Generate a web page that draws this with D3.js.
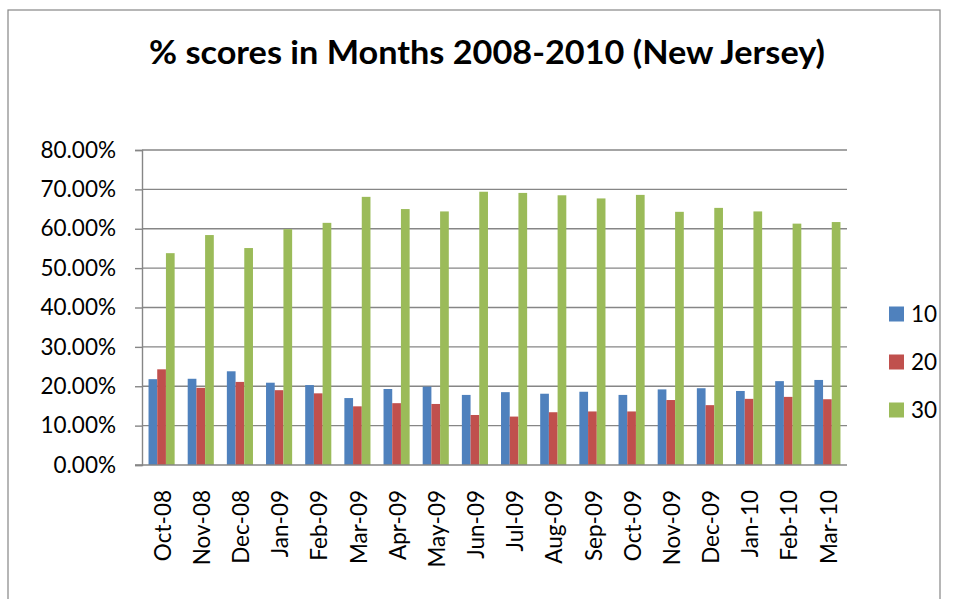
<!DOCTYPE html>
<html>
<head>
<meta charset="utf-8">
<script src="https://cdn.jsdelivr.net/npm/d3@7.9.0/dist/d3.min.js"></script>
<style>
  body { margin: 0; background: #fff; }
  svg { display: block; font-family: Lato, "Open Sans", sans-serif; }
</style>
</head>
<body>
<svg id="chart" width="953" height="599"></svg>
<script>
// months on the x axis
const months = ['Oct-08', 'Nov-08', 'Dec-08', 'Jan-09', 'Feb-09', 'Mar-09', 'Apr-09', 'May-09', 'Jun-09',
  'Jul-09', 'Aug-09', 'Sep-09', 'Oct-09', 'Nov-09', 'Dec-09', 'Jan-10', 'Feb-10', 'Mar-10'];

// series names
const seriesNames = ['10', '20', '30'];

// values (fractions)
const s10 = [0.218, 0.219, 0.238, 0.209, 0.203, 0.170, 0.193, 0.199, 0.178, 0.185, 0.181, 0.186, 0.178, 0.192, 0.195, 0.188, 0.213, 0.216];
const s20 = [0.243, 0.196, 0.211, 0.190, 0.182, 0.149, 0.157, 0.155, 0.127, 0.123, 0.134, 0.136, 0.136, 0.165, 0.152, 0.168, 0.173, 0.167];
const s30 = [0.538, 0.584, 0.551, 0.599, 0.615, 0.681, 0.650, 0.644, 0.694, 0.691, 0.685, 0.677, 0.686, 0.643, 0.653, 0.644, 0.613, 0.617];

const yTicks = [0, 0.1, 0.2, 0.3, 0.4, 0.5, 0.6, 0.7, 0.8];
const colors = ['#4f81bd', '#c0504d', '#9bbb59'];

const seriesValues = [s10, s20, s30];
const rows = months.map((m, i) => ({ month: m, vals: seriesValues.map(s => s[i]) }));

const svg = d3.select('#chart');
const gridColor = '#868686';

// chart area border
svg.append('rect')
  .attr('x', 8).attr('y', 10)
  .attr('width', 932).attr('height', 620)
  .attr('fill', 'none')
  .attr('stroke', gridColor)
  .attr('stroke-width', 1.2);

// title
svg.append('text')
  .attr('x', 487).attr('y', 64)
  .attr('text-anchor', 'middle')
  .attr('font-weight', 'bold')
  .attr('font-size', 32)
  .attr('textLength', 676)
  .attr('lengthAdjust', 'spacingAndGlyphs')
  .text('% scores in Months 2008-2010 (New Jersey)');

const plot = { left: 142, right: 847, top: 150, bottom: 465 };

const x = d3.scaleBand()
  .domain(months)
  .range([plot.left, plot.right])
  .paddingInner(1.5 / 4.5)
  .paddingOuter(0.75 / 4.5);

const xs = d3.scaleBand()
  .domain(d3.range(seriesNames.length))
  .range([0, x.bandwidth()]);

const y = d3.scaleLinear()
  .domain([0, 0.8])
  .range([plot.bottom, plot.top]);

// gridlines
svg.append('g')
  .selectAll('line')
  .data(yTicks.filter(t => t > 0))
  .join('line')
  .attr('x1', plot.left).attr('x2', plot.right)
  .attr('y1', d => y(d)).attr('y2', d => y(d))
  .attr('stroke', gridColor)
  .attr('stroke-width', 1.4);

// y axis
const yAxis = svg.append('g')
  .attr('transform', `translate(${plot.left},0)`)
  .call(d3.axisLeft(y).tickValues(yTicks).tickFormat(d3.format('.2%')).tickSize(7).tickPadding(19));
yAxis.select('.domain').attr('stroke', gridColor).attr('stroke-width', 1.4);
yAxis.selectAll('.tick line').attr('stroke', gridColor).attr('stroke-width', 1.4);
yAxis.selectAll('text')
  .attr('font-family', 'Lato, sans-serif')
  .attr('font-size', 22.5)
  .attr('fill', '#000');

// bars
svg.append('g')
  .selectAll('g')
  .data(rows)
  .join('g')
  .attr('transform', d => `translate(${x(d.month)},0)`)
  .selectAll('rect')
  .data(d => d.vals)
  .join('rect')
  .attr('x', (d, i) => xs(i))
  .attr('width', xs.bandwidth())
  .attr('y', d => y(d))
  .attr('height', d => y(0) - y(d))
  .attr('fill', (d, i) => colors[i]);

// x axis line
svg.append('line')
  .attr('x1', plot.left - 7).attr('x2', plot.right)
  .attr('y1', plot.bottom).attr('y2', plot.bottom)
  .attr('stroke', gridColor)
  .attr('stroke-width', 1.4);

// x labels rotated
svg.append('g')
  .selectAll('text')
  .data(months)
  .join('text')
  .attr('transform', d => `translate(${x(d) + x.bandwidth() / 2 + 1},490) rotate(-90)`)
  .attr('text-anchor', 'end')
  .attr('dy', '0.36em')
  .attr('font-size', 22.5)
  .text(d => d);

// legend
const legend = svg.append('g')
  .selectAll('g')
  .data(seriesNames)
  .join('g')
  .attr('transform', (d, i) => `translate(889,${314 + i * 48})`);
legend.append('rect')
  .attr('x', 0).attr('y', -7.5)
  .attr('width', 15).attr('height', 15)
  .attr('fill', (d, i) => colors[i]);
legend.append('text')
  .attr('x', 22)
  .attr('dy', '0.36em')
  .attr('font-size', 22.5)
  .text(d => d);
</script>
</body>
</html>
